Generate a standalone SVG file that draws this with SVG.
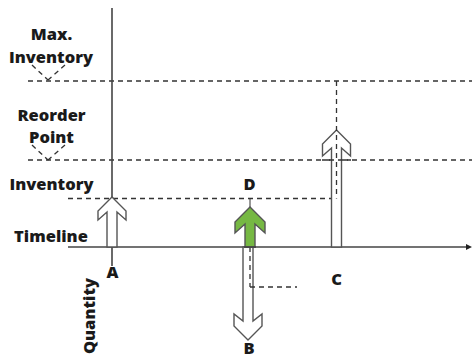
<svg xmlns="http://www.w3.org/2000/svg" width="472" height="359" viewBox="0 0 472 359">
<style>
.lbl{font-family:"Open Sans","Liberation Sans",sans-serif;font-weight:800;font-size:16.5px;fill:#1a1a1a;text-anchor:middle}
.dash{stroke:#333;stroke-width:1.3;stroke-dasharray:5,4;fill:none}
.axis{stroke:#444;stroke-width:1.6;fill:none}
.arr{fill:#fff;stroke:#555;stroke-width:1.4;stroke-linejoin:miter}
.green{fill:#76b843;stroke:#555;stroke-width:1.4}
</style>
<rect width="472" height="359" fill="#fff"/>
<g id="connectors">
<line class="dash" x1="28" y1="81" x2="472" y2="81"/>
<line class="dash" x1="28" y1="160" x2="472" y2="160"/>
<line class="dash" x1="68" y1="198.5" x2="336.5" y2="198.5"/>
<line class="dash" x1="32" y1="65" x2="48" y2="80"/>
<line class="dash" x1="65" y1="65" x2="48" y2="80"/>
<line class="dash" x1="32" y1="145" x2="48" y2="160"/>
<line class="dash" x1="65" y1="145" x2="48" y2="160"/>
<line class="axis" x1="112" y1="8" x2="112" y2="266"/>
<line class="axis" x1="68" y1="247" x2="468" y2="247"/>
<polygon points="466,244 472,247 466,250" fill="#222"/>
</g>
<g id="arrow-A">
<path class="arr" d="M112,197 L126,211 L126,220 L117,212 L117,247 L107,247 L107,212 L98,220 L98,211 Z"/>
</g>
<g id="arrow-C">
<path class="arr" d="M336.5,130 L350.5,144 L350.5,156 L341.5,148 L341.5,247 L331.5,247 L331.5,148 L322.5,156 L322.5,144 Z"/>
<line class="dash" x1="336.5" y1="81" x2="336.5" y2="198.5"/>
<line class="dash" x1="322" y1="160" x2="351" y2="160" stroke-dashoffset="2"/>
</g>
<g id="arrow-B">
<path class="arr" d="M243,247 L253,247 L253,321 L262,314 L262,326 L248,340 L234,326 L234,314 L243,321 Z"/>
<line class="dash" x1="250" y1="247" x2="250" y2="287"/>
<line class="dash" x1="250" y1="287" x2="297" y2="287"/>
</g>
<g id="arrow-D">
<line x1="250" y1="199" x2="250" y2="207" stroke="#333" stroke-width="1"/>
<path class="green" d="M250,207 L265,222 L265,233 L255,224 L255,247 L245,247 L245,224 L235,233 L235,222 Z"/>
<line class="axis" x1="244" y1="247" x2="256" y2="247"/>
</g>
<g id="labels">
<text class="lbl" x="51.5" y="40">Max.</text>
<text class="lbl" x="51" y="62.5">Inventory</text>
<text class="lbl" x="51.5" y="121">Reorder</text>
<text class="lbl" x="51.5" y="143">Point</text>
<text class="lbl" x="51.5" y="190">Inventory</text>
<text class="lbl" x="51" y="242">Timeline</text>
<text class="lbl" x="112.5" y="277.5">A</text>
<text class="lbl" x="249.5" y="189.5">D</text>
<text class="lbl" x="249" y="354">B</text>
<text class="lbl" x="336.5" y="285">C</text>
<text class="lbl" transform="translate(94.5,316) rotate(-90)" x="0" y="0">Quantity</text>
</g>
</svg>
